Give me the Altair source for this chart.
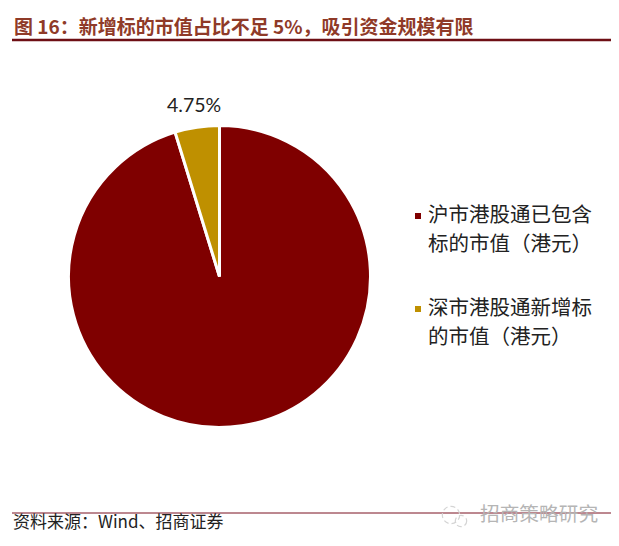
import altair as alt
import pandas as pd

categories = ["沪市港股通已包含标的市值(港元)", "深市港股通新增标的市值(港元)"]
shares = [95.25, 4.75]
colors = ["#7f0000", "#bf9000"]
legend_lines = [["沪市港股通已包含", "标的市值（港元）"], ["深市港股通新增标", "的市值（港元）"]]
title_text = "图 16：新增标的市值占比不足 5%，吸引资金规模有限"
source_text = "资料来源：Wind、招商证券"
watermark_text = "招商策略研究"
pct_label = "4.75%"

CJK = "Noto Sans CJK SC"
OX, OY = 8, 8
def px(v): return alt.value(v - OX)
def py(v): return alt.value(v - OY)

df = pd.DataFrame({"cat": categories, "share": shares, "order": [0, 1]})
one = pd.DataFrame({"a": [0]})

def text(s, x, y, size, color, font=CJK, weight="normal", align="left"):
    return alt.Chart(one).mark_text(text=s, fontSize=size, color=color, font=font, fontWeight=weight,
                                    align=align, baseline="middle").encode(x=px(x), y=py(y))

def rule(x1, x2, y, w, color):
    return alt.Chart(one).mark_rule(color=color, strokeWidth=w).encode(x=px(x1), x2=px(x2), y=py(y))

pie = alt.Chart(df).mark_arc(outerRadius=151, stroke="white", strokeWidth=3).encode(
    theta=alt.Theta("share:Q", stack=True, scale=alt.Scale(domain=[0, sum(shares)], range=[0, 6.28318530718])),
    order=alt.Order("order:Q"),
    color=alt.Color("cat:N", scale=alt.Scale(domain=categories, range=colors), legend=None),
    x=px(219.5), y=py(276.5),
)

def swatch(x, y, color):
    return alt.Chart(one).mark_square(size=36, color=color, opacity=1).encode(x=px(x), y=py(y))

def bubble(x, y, size):
    return alt.Chart(one).mark_point(shape="circle", size=size, color="#d4d4d4", filled=False,
                                     strokeWidth=1.2, strokeDash=[5, 3], opacity=1).encode(x=px(x), y=py(y))

layers = [
    rule(12, 619, 40, 2.5, "#6e0f14"),
    rule(12, 619, 513, 1, "#7a1020"),
    text(title_text, 14, 27.5, 19, "#8f3a28", weight="bold"),
    pie,
    text(pct_label, 167, 106, 19.5, "#222222", font="Lato"),
    swatch(418, 216, colors[0]),
    swatch(418, 309, colors[1]),
    text(legend_lines[0][0], 428, 216, 20.5, "#222222"),
    text(legend_lines[0][1], 428, 245, 20.5, "#222222"),
    text(legend_lines[1][0], 428, 309, 20.5, "#222222"),
    text(legend_lines[1][1], 428, 338, 20.5, "#222222"),
    text(source_text, 13, 523, 17, "#222222"),
    bubble(451, 515, 300),
    bubble(461, 521, 130),
    text(watermark_text, 480, 515, 19.7, "#b5b5b5"),
]

chart = alt.layer(*layers).properties(
    width=603, height=530, padding=0, autosize=alt.AutoSizeParams(type="none")
).configure_view(stroke=None)

chart.save("out.html", embed_options={"renderer": "svg", "actions": False})
